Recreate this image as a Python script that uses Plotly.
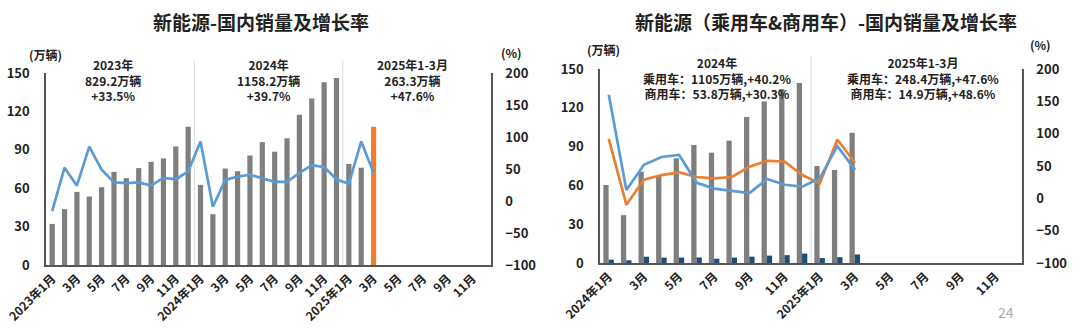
import plotly.graph_objects as go

# ---------------- data ----------------
months_left = [f"{y}年{m}月" for y in (2023, 2024, 2025) for m in range(1, 13)]
months_right = [f"{y}年{m}月" for y in (2024, 2025) for m in range(1, 13)]

left_sales = [32.1, 43.6, 57.1, 53.5, 60.8, 72.8, 67.9, 75.7, 80.6, 83.3, 92.6, 108.0,
              62.6, 39.7, 75.4, 73.3, 85.6, 96.0, 88.5, 99.0, 117.4, 130.0, 142.7, 146.0,
              79.0, 76.0, 108.0]
left_growth = [-16, 52, 24, 85, 49, 29, 28, 29, 24, 36, 34, 46,
               93, -9, 33, 38, 41, 35, 30, 30, 44, 56, 53, 34,
               27, 93, 44]

passenger_sales = [60.3, 37.0, 70.6, 68.0, 81.0, 91.3, 85.3, 94.6, 112.8, 124.9, 134.5, 139.1,
                   75.0, 71.9, 100.8]
commercial_sales = [2.6, 2.1, 4.9, 4.2, 4.2, 4.3, 3.3, 4.2, 4.9, 5.7, 6.1, 7.3,
                    3.8, 4.5, 6.6]
passenger_growth = [92, -10, 29, 36, 40, 33, 31, 33, 49, 58, 57, 36,
                    23, 91, 55]
commercial_growth = [160, 13, 52, 64, 67, 24, 15, 12, 8, 30, 21, 18,
                     31, 81, 44]

left_notes = [["2023年", "829.2万辆", "+33.5%"],
              ["2024年", "1158.2万辆", "+39.7%"],
              ["2025年1-3月", "263.3万辆", "+47.6%"]]
right_notes = [["2024年", "乘用车：1105万辆,+40.2%", "商用车：53.8万辆,+30.3%"],
               ["2025年1-3月", "乘用车：248.4万辆,+47.6%", "商用车：14.9万辆,+48.6%"]]

left_title = "新能源-国内销量及增长率"
right_title = "新能源（乘用车&商用车）-国内销量及增长率"

# ---------------- styling ----------------
W, H = 1080, 333
FONT = "Noto Sans CJK SC"
GRAY = "#7f7f7f"
NAVY = "#1f4e79"
LBLUE = "#5b9bd5"
ORANGE = "#ed7d31"
AX = "#555555"
TXT = "#222222"


def px(x):
    return x / W


def py(y):
    return 1 - y / H


def tick_labels(cats):
    vals, texts = [], []
    for i, c in enumerate(cats):
        if i % 2 == 0:
            vals.append(c)
            texts.append(c if i % 12 == 0 else c.split("年")[1])
    return vals, texts


fig = go.Figure()

bar_colors = [GRAY] * (len(left_sales) - 1) + [ORANGE]
fig.add_trace(go.Bar(x=months_left[:len(left_sales)], y=left_sales, width=0.42,
                     marker=dict(color=bar_colors, line=dict(width=0)),
                     xaxis="x", yaxis="y", showlegend=False))
fig.add_trace(go.Scatter(x=months_left[:len(left_growth)], y=left_growth, mode="lines",
                         line=dict(color=LBLUE, width=2.7),
                         xaxis="x", yaxis="y2", showlegend=False))

fig.add_trace(go.Bar(x=months_right[:len(passenger_sales)], y=passenger_sales, width=0.3, offset=-0.31,
                     marker=dict(color=GRAY, line=dict(width=0)),
                     xaxis="x2", yaxis="y3", showlegend=False))
fig.add_trace(go.Bar(x=months_right[:len(commercial_sales)], y=commercial_sales, width=0.3, offset=-0.01,
                     marker=dict(color=NAVY, line=dict(width=0)),
                     xaxis="x2", yaxis="y3", showlegend=False))
fig.add_trace(go.Scatter(x=months_right[:len(passenger_growth)], y=passenger_growth, mode="lines",
                         line=dict(color=ORANGE, width=2.7),
                         xaxis="x2", yaxis="y4", showlegend=False))
fig.add_trace(go.Scatter(x=months_right[:len(commercial_growth)], y=commercial_growth, mode="lines",
                         line=dict(color=LBLUE, width=2.7),
                         xaxis="x2", yaxis="y4", showlegend=False))

tv_l, tt_l = tick_labels(months_left)
tv_r, tt_r = tick_labels(months_right)

tickfont = dict(family=FONT, size=13, color=TXT, weight="bold")
xtickfont = dict(family=FONT, size=12, color=TXT, weight="bold")

common_y = dict(showgrid=False, zeroline=False, showline=True, linecolor=AX, linewidth=1.5,
                ticks="", tickfont=tickfont, fixedrange=True, automargin=False)
common_x = dict(type="category", showgrid=False, zeroline=False, showline=True, linecolor=AX,
                linewidth=1.5, ticks="", tickangle=-45, tickfont=xtickfont, automargin=False)

fig.update_layout(
    width=W, height=H,
    margin=dict(l=0, r=0, t=0, b=0, autoexpand=False),
    paper_bgcolor="white", plot_bgcolor="white",
    barmode="overlay",
    xaxis=dict(common_x, domain=[px(46), px(491)], anchor="y",
               categoryorder="array", categoryarray=months_left,
               range=[-0.5, len(months_left) - 0.5], tickvals=tv_l, ticktext=tt_l),
    yaxis=dict(common_y, domain=[py(265), py(73)], anchor="x", range=[0, 150], dtick=30,
               ticklabelstandoff=12),
    yaxis2=dict(common_y, overlaying="y", side="right", anchor="x", range=[-100, 200], dtick=50,
                ticklabelstandoff=10),
    xaxis2=dict(common_x, domain=[px(600), px(1022)], anchor="y3",
                categoryorder="array", categoryarray=months_right,
                range=[-0.5, len(months_right) - 0.5], tickvals=tv_r, ticktext=tt_r),
    yaxis3=dict(common_y, domain=[py(263), py(69)], anchor="x2", range=[0, 150], dtick=30,
                ticklabelstandoff=12),
    yaxis4=dict(common_y, overlaying="y3", side="right", anchor="x2", range=[-100, 200], dtick=50,
                ticklabelstandoff=10),
)

# separators between years
shapes = []
for xr, xv, y0, y1 in [("x", 11.5, 265, 60), ("x", 23.5, 265, 60), ("x2", 11.5, 263, 56)]:
    shapes.append(dict(type="line", xref=xr, yref="paper", x0=xv, x1=xv, y0=py(y0), y1=py(y1),
                       line=dict(color="#d6dde6", width=1), layer="below"))
fig.update_layout(shapes=shapes)

ann = []


def note(x, y, text, size=12, color=TXT, bold=True, xanchor="center", yanchor="middle"):
    ann.append(dict(x=px(x), y=py(y), xref="paper", yref="paper", text=text, showarrow=False,
                    xanchor=xanchor, yanchor=yanchor,
                    font=dict(family=FONT, size=size, color=color, weight="bold" if bold else "normal")))


note(261, 22, left_title, size=19)
note(826, 22, right_title, size=19)

note(45, 54, "(万辆)", size=12)
note(511, 53, "(%)", size=12)
note(603, 50, "(万辆)", size=12)
note(1040, 45, "(%)", size=12)

for cx, lines in zip([113, 268, 412], left_notes):
    note(cx, 54, "<br>".join(lines), yanchor="top")
for cx, lines in zip([717, 923], right_notes):
    note(cx, 52, "<br>".join(lines), yanchor="top")

note(1006, 312, "24", size=14, color="#aaaaaa", bold=False)

fig.update_layout(annotations=ann)

fig.write_html("out.html")
